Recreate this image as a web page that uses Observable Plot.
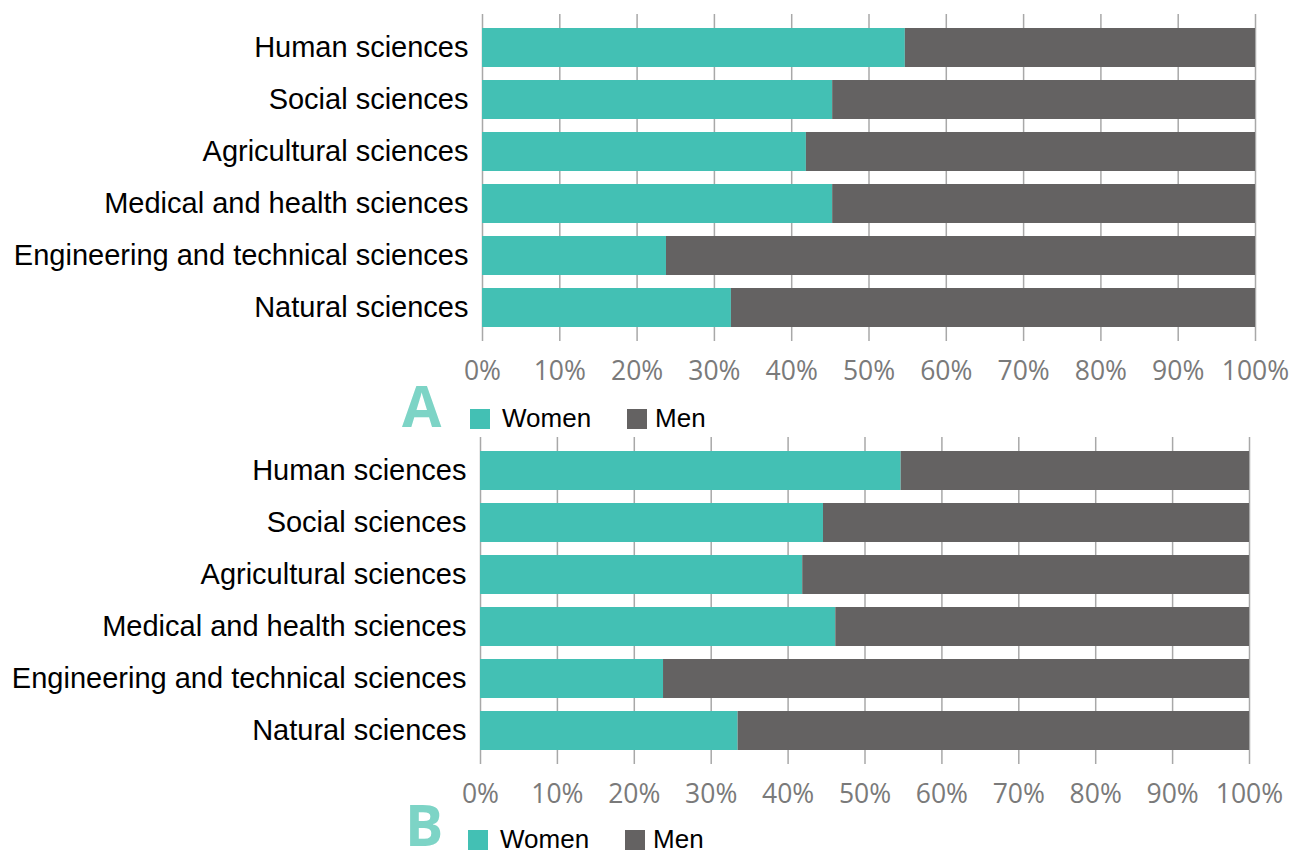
<!DOCTYPE html>
<html><head><meta charset="utf-8">
<script src="https://cdn.jsdelivr.net/npm/d3@7"></script>
<script src="https://cdn.jsdelivr.net/npm/@observablehq/plot@0.6"></script>
<style>
body{margin:0;background:#fff;width:1295px;height:852px;position:relative;overflow:hidden;font-family:"Liberation Sans",Arial,sans-serif;}
.panel{position:absolute;left:0;}
.panel svg{overflow:visible;}
g[aria-label="y-axis tick label"] text{font-family:"Liberation Sans",Arial,sans-serif;font-size:29px;fill:#000;}
g[aria-label="x-axis tick label"] text{font-family:"Open Sans",sans-serif;font-size:26.5px;fill:#7a7a7a;}
.letter{position:absolute;font-family:"Open Sans",sans-serif;font-weight:700;font-size:57px;color:#7dd4c6;line-height:0.7;}
.leg{position:absolute;display:flex;align-items:center;font-size:26px;color:#000;line-height:0.9;}
.sw{width:20px;height:20px;display:inline-block;margin-right:12px;}
</style></head>
<body>
<div id="a" class="panel" style="top:0"></div>
<div id="b" class="panel" style="top:423px"></div>
<div class="letter" style="left:402px;top:386px">A</div>
<div class="leg" style="left:470px;top:407px"><span class="sw" style="background:#43c0b4"></span>Women<span class="sw" style="background:#646262;margin-left:36px;margin-right:8px"></span>Men</div>
<div class="letter" style="left:405px;top:805px">B</div>
<div class="leg" style="left:468px;top:828px"><span class="sw" style="background:#43c0b4"></span>Women<span class="sw" style="background:#646262;margin-left:36px;margin-right:8px"></span>Men</div>
<script>
const categories = ["Human sciences","Social sciences","Agricultural sciences","Medical and health sciences","Engineering and technical sciences","Natural sciences"];
const womenA = [54.7, 45.3, 41.9, 45.3, 23.8, 32.2];
const menA   = [45.3, 54.7, 58.1, 54.7, 76.2, 67.8];
const womenB = [54.7, 44.6, 41.9, 46.2, 23.8, 33.5];
const menB   = [45.3, 55.4, 58.1, 53.8, 76.2, 66.5];
const tickValues = [0,10,20,30,40,50,60,70,80,90,100];
const sexes = ["Women","Men"];
const colors = ["#43c0b4","#646262"];

function panel(women, men, ml, mr) {
  const data = categories.flatMap((c,i)=>[{cat:c, sex:"Women", v:women[i]},{cat:c, sex:"Men", v:men[i]}]);
  return Plot.plot({
    width:1295, height:400, marginTop:14, marginBottom:59, marginLeft:ml, marginRight:mr,
    x:{domain:[0,100]},
    y:{domain:categories, padding:0.25},
    color:{domain:sexes, range:colors},
    marks:[
      Plot.gridX(tickValues,{stroke:"#a8a8a8", strokeOpacity:1, strokeWidth:1.5}),
      Plot.barX(data, Plot.stackX({x:"v", y:"cat", fill:"sex", order:sexes})),
      Plot.axisX(tickValues,{tickSize:0, tickPadding:20, tickFormat:d=>d+"%", label:null}),
      Plot.axisY({tickSize:0, tickPadding:14, label:null})
    ]
  });
}
document.getElementById("a").appendChild(panel(womenA, menA, 482, 40));
document.getElementById("b").appendChild(panel(womenB, menB, 480, 46));
</script>
</body></html>
